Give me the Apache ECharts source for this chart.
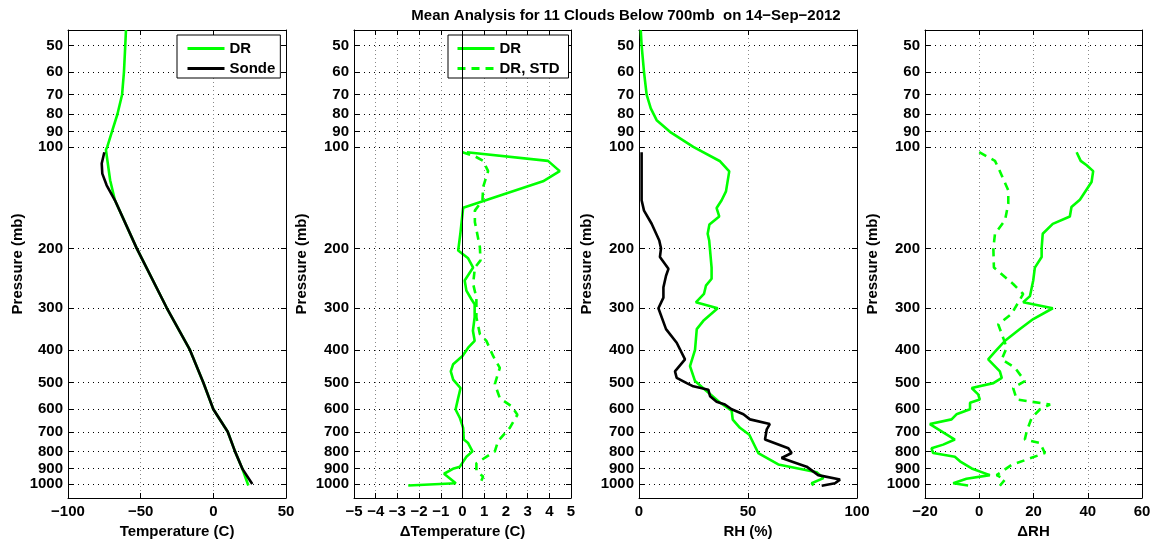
<!DOCTYPE html>
<html><head><meta charset="utf-8">
<script src="https://cdn.jsdelivr.net/npm/echarts@6/dist/echarts.min.js"></script>
<style>html,body{margin:0;padding:0;background:#fff}#c{width:1156px;height:539px}</style>
</head><body><div id="c"></div>
<script>
// ---- data ----
const TITLE = 'Mean Analysis for 11 Clouds Below 700mb  on 14\u2212Sep\u22122012';
const P_TICKS = [50,60,70,80,90,100,200,300,400,500,600,700,800,900,1000];

const P_T_DR = [45,50,60,70,80,90,100,102,125.6,144,200,300,400,500,600,700,800,900,1010];
const T_DR = [-60.1,-60.6,-61.5,-62.8,-66,-69.7,-73,-73.9,-71,-67.7,-52.7,-32.1,-16.1,-6.9,0,9.9,14.9,19.9,24.1];
const P_T_SONDE = [103.7,112,120,130,144,200,300,400,500,600,700,800,900,1000];
const T_SONDE = [-75,-76.8,-76.4,-73.4,-67.7,-52.7,-32.1,-16.1,-6.9,0,9.9,14.9,19.9,26.8];

const P_DT = [103.7,110,118,126.5,151.5,181,203,214,228,249,267,283,293,320,351,376,394,417,441,463,490,519,556,601,637,681,738,756,800,830,888,899,932,944,995,1010];
const DT_DR = [0.2,3.94,4.48,3.71,0.03,-0.1,-0.2,0.26,0.49,0.1,0.18,0.41,0.56,0.56,0.48,0.56,0.26,0,-0.43,-0.54,-0.43,-0.09,-0.2,-0.32,-0.12,0.03,0.06,0.26,0.46,0.18,-0.12,-0.4,-0.85,-0.82,-0.31,-2.5];
const P_DT_STD = [103.7,106.6,110,118,131.5,144,154.5,167,198,217,228,255,280,320,359,376,417,452,505,556,588,623,681,746,800,868,915,950,1010];
const DT_STD = [0,0.57,0.95,1.18,0.95,0.92,0.57,0.57,0.8,0.83,0.57,0.49,0.64,0.64,0.8,1.1,1.41,1.72,1.49,1.72,2.26,2.53,2.18,1.64,1.49,0.64,0.64,0.95,0.78];

const P_RH_DR = [45,50,60,70,76.9,83.3,90.2,100,110.3,118.2,135.5,144,151.8,160.8,170,181,189.5,228,246,258,273,289,301,328,347,400,447,495,525,574,606,644,681,714,809,875,922,960,995,1010];
const RH_DR = [0.8,1.2,2.3,3.5,5.4,8.1,14.2,24.9,37.2,41.4,39.9,37.9,35.6,36.8,32.3,31.5,32.2,33.3,33.3,30.7,29.8,26.1,36.1,29.5,26.5,25.7,23.4,25.7,30.3,37.2,42.5,43,46.3,50.6,54.7,63.9,81.5,84.6,79.2,80];
const P_RH_SONDE = [103.7,144,154.5,169,189.5,200,212,230,241,261,280,301,347,381,427,463,484,502,513,525,549,570,581,600,621,643,664,688,738,783,809,837,888,941,970,995,1012];
const RH_SONDE = [1.2,1.2,2.3,5.8,9.3,10.1,9.6,13.5,12.4,11.2,11.2,8.9,12.4,17.3,21.1,16.5,17.3,21.9,24.9,31.8,32.6,35.6,39.4,42.5,47.9,50.9,60,58.6,57.8,68.5,70,65.4,76.9,82.2,92.2,89.9,83.8];

const P_DRH = [103.7,110,113.4,118,127.1,143.4,150.8,160.8,169.1,181,200,212,228,249,277,289,301,324,347,376,400,427,463,484,502,519,542,561,574,600,621,643,664,738,764,783,809,830,856,899,941,964,995,1010];
const DRH_DR = [35.9,37.4,39.6,42,41.4,37.1,34,33.4,27.1,23.4,23,23,20.5,19.9,18.7,16.2,27.1,19.9,15,9.5,6.4,3.3,7.6,8.3,5.2,-2.8,-0.4,0.2,-3.4,-3.4,-8.4,-10.2,-18.2,-9,-13.3,-17.6,-17,-9,-7.1,-2.8,3.9,-4.7,-9.6,-4.1];
const P_DRH_STD = [103.7,110,118,134.6,147.5,165,181,200,228,236,255,273,313,336,368,394,427,452,495,519,561,581,600,637,697,738,756,809,878,941,970,1012];
const DRH_STD = [0,5.8,7.6,10.7,10.7,9.5,5.8,5.2,5.4,7.6,12.5,16.2,11.9,7,8.8,10.1,8.3,13.2,16.8,12.5,13.8,26.1,22.4,19.3,17.5,16.8,22.4,24.2,11.9,6.4,9.5,7.6];

const X_RANGES = [[-100,50,50],[-5,5,1],[0,100,50],[-20,60,20]];
const X_NAMES = ['Temperature (C)','\u0394Temperature (C)','RH (%)','\u0394RH'];

// ---- layout/style ----
const FONT = 'Liberation Sans';
const GREEN = '#00ff00';
const grids = [
  {left:68, top:30, width:218, height:468, outerBoundsMode:'none', containLabel:false},
  {left:354, top:30, width:217, height:468, outerBoundsMode:'none', containLabel:false},
  {left:639, top:30, width:218, height:468, outerBoundsMode:'none', containLabel:false},
  {left:925, top:30, width:217, height:468, outerBoundsMode:'none', containLabel:false}
];
const Y_NAME_GAPS = [43, 45, 45, 45];
const fmtMinus = v => String(v).replace('-', '\u2212');
const xAxes = [], yAxes = [];
grids.forEach((g, i) => {
  const [mn, mx, iv] = X_RANGES[i];
  xAxes.push({
    type:'value', gridIndex:i, min:mn, max:mx, interval:iv, position:'bottom',
    name:X_NAMES[i], nameLocation:'middle', nameGap:21,
    nameTextStyle:{fontFamily:FONT, fontWeight:'bold', fontSize:15, color:'#000'},
    axisLine:{show:true, onZero:false, lineStyle:{color:'#000', width:1}},
    axisTick:{show:true, inside:true, length:5, lineStyle:{color:'#000'}},
    axisLabel:{fontFamily:FONT, fontWeight:'bold', fontSize:15, color:'#000', margin:6, formatter:fmtMinus},
    splitLine:{show:true, lineStyle:{color:'#888', type:[1,3], width:1}}
  });
  xAxes.push({
    type:'value', gridIndex:i, min:mn, max:mx, interval:iv, position:'top',
    axisLine:{show:true, onZero:false, lineStyle:{color:'#000', width:1}},
    axisTick:{show:true, inside:true, length:5, lineStyle:{color:'#000'}},
    axisLabel:{show:false}, splitLine:{show:false}
  });
  yAxes.push({
    type:'log', logBase:10, gridIndex:i, min:45, max:1100, inverse:true, position:'left',
    name:'Pressure (mb)', nameLocation:'middle', nameGap:Y_NAME_GAPS[i], nameRotate:90,
    nameTextStyle:{fontFamily:FONT, fontWeight:'bold', fontSize:15, color:'#000'},
    axisLine:{show:true, onZero:false, lineStyle:{color:'#000', width:1}},
    axisTick:{show:true, inside:true, length:5, customValues:P_TICKS, lineStyle:{color:'#000'}},
    axisLabel:{fontFamily:FONT, fontWeight:'bold', fontSize:15, color:'#000', margin:5,
      customValues:P_TICKS, formatter:v => String(Math.round(v))},
    splitLine:{show:true, lineStyle:{color:'#000', type:[1,4], width:1}},
    minorTick:{show:false}, minorSplitLine:{show:false}
  });
  yAxes.push({
    type:'log', logBase:10, gridIndex:i, min:45, max:1100, inverse:true, position:'right',
    axisLine:{show:true, onZero:false, lineStyle:{color:'#000', width:1}},
    axisTick:{show:true, inside:true, length:5, customValues:P_TICKS, lineStyle:{color:'#000'}},
    axisLabel:{show:false, customValues:P_TICKS}, splitLine:{show:false}
  });
});

const pairs = (xs, ps) => xs.map((x, k) => [x, ps[k]]);
function line(name, panel, xs, ps, color, dashed, extra) {
  return Object.assign({
    name, type:'line', xAxisIndex:panel*2, yAxisIndex:panel*2,
    data:pairs(xs, ps), symbol:'none', showSymbol:false, silent:true, animation:false,
    lineStyle:{color, width:2.6, type: dashed ? [8,6] : 'solid'},
    itemStyle:{color}, z:3
  }, extra || {});
}

const series = [
  line('DR', 0, T_DR, P_T_DR, GREEN, false),
  line('Sonde', 0, T_SONDE, P_T_SONDE, '#000', false),
  line('DR ', 1, DT_DR, P_DT, GREEN, false, {
    markLine:{silent:true, symbol:'none', animation:false, label:{show:false},
      lineStyle:{color:'#000', type:'solid', width:1}, data:[{xAxis:0}]}
  }),
  line('DR, STD', 1, DT_STD, P_DT_STD, GREEN, true),
  line('RH DR', 2, RH_DR, P_RH_DR, GREEN, false),
  line('RH Sonde', 2, RH_SONDE, P_RH_SONDE, '#000', false),
  line('dRH DR', 3, DRH_DR, P_DRH, GREEN, false),
  line('dRH STD', 3, DRH_STD, P_DRH_STD, GREEN, true)
];

const legendBase = {
  orient:'vertical', backgroundColor:'#fff', borderColor:'#000', borderWidth:1,
  itemWidth:37, itemHeight:14, itemGap:5, selectedMode:false,
  itemStyle:{opacity:0},
  lineStyle:{width:3},
  textStyle:{fontFamily:FONT, fontWeight:'bold', fontSize:15, lineHeight:14, color:'#000'}
};

const option = {
  animation:false,
  backgroundColor:'#fff',
  title:{text:TITLE, left:621, top:3, textAlign:'center',
    textStyle:{fontFamily:FONT, fontWeight:'bold', fontSize:15, color:'#000'}},
  legend:[
    Object.assign({}, legendBase, {data:['DR','Sonde'], left:177, top:35, padding:[6,5,2,9]}),
    Object.assign({}, legendBase, {data:['DR ', 'DR, STD'], left:448, top:35, padding:[6,9,2,8]})
  ],
  grid:grids,
  xAxis:xAxes,
  yAxis:yAxes,
  series
};
const chart = echarts.init(document.getElementById('c'), null, {renderer:'canvas'});
chart.setOption(option);
</script>
</body></html>
